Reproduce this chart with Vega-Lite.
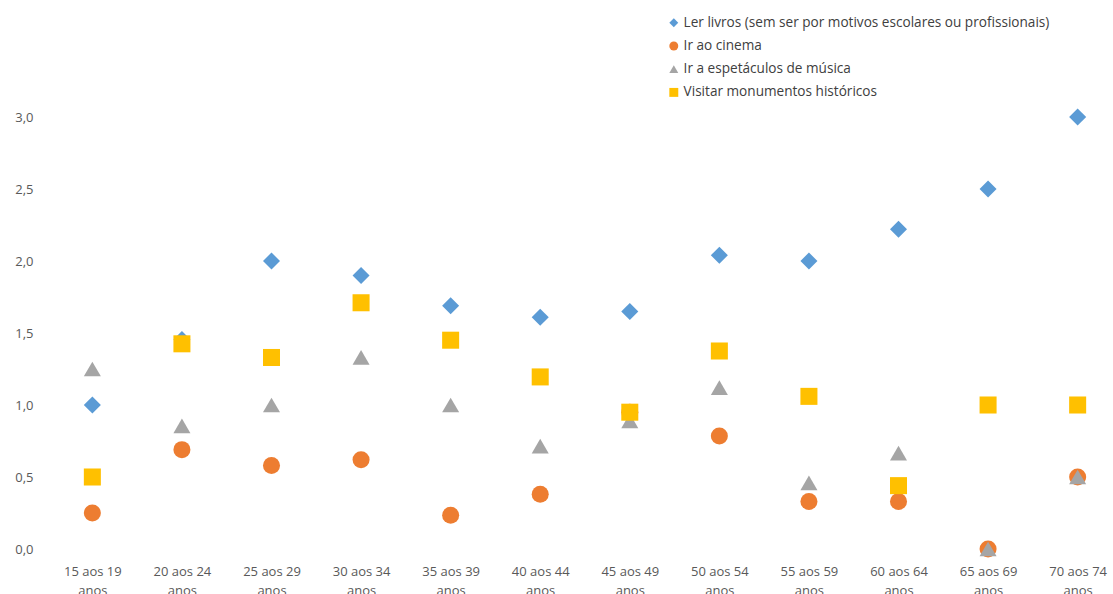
{
  "$schema": "https://vega.github.io/schema/vega-lite/v6.json",
  "width": 1048,
  "height": 432,
  "autosize": {"type": "none"},
  "padding": {"left": 61, "top": 117, "right": 4, "bottom": 45},
  "background": "white",
  "config": {
    "view": {"stroke": null},
    "font": "Open Sans"
  },
  "data": {
    "values": [
      {"idade": "15 aos 19 anos", "serie": "Ler livros (sem ser por motivos escolares ou profissionais)", "valor": 1.0},
      {"idade": "20 aos 24 anos", "serie": "Ler livros (sem ser por motivos escolares ou profissionais)", "valor": 1.455},
      {"idade": "25 aos 29 anos", "serie": "Ler livros (sem ser por motivos escolares ou profissionais)", "valor": 2.0},
      {"idade": "30 aos 34 anos", "serie": "Ler livros (sem ser por motivos escolares ou profissionais)", "valor": 1.9},
      {"idade": "35 aos 39 anos", "serie": "Ler livros (sem ser por motivos escolares ou profissionais)", "valor": 1.69},
      {"idade": "40 aos 44 anos", "serie": "Ler livros (sem ser por motivos escolares ou profissionais)", "valor": 1.61},
      {"idade": "45 aos 49 anos", "serie": "Ler livros (sem ser por motivos escolares ou profissionais)", "valor": 1.65},
      {"idade": "50 aos 54 anos", "serie": "Ler livros (sem ser por motivos escolares ou profissionais)", "valor": 2.04},
      {"idade": "55 aos 59 anos", "serie": "Ler livros (sem ser por motivos escolares ou profissionais)", "valor": 2.0},
      {"idade": "60 aos 64 anos", "serie": "Ler livros (sem ser por motivos escolares ou profissionais)", "valor": 2.22},
      {"idade": "65 aos 69 anos", "serie": "Ler livros (sem ser por motivos escolares ou profissionais)", "valor": 2.5},
      {"idade": "70 aos 74 anos", "serie": "Ler livros (sem ser por motivos escolares ou profissionais)", "valor": 3.0},
      {"idade": "15 aos 19 anos", "serie": "Ir ao cinema", "valor": 0.25},
      {"idade": "20 aos 24 anos", "serie": "Ir ao cinema", "valor": 0.69},
      {"idade": "25 aos 29 anos", "serie": "Ir ao cinema", "valor": 0.58},
      {"idade": "30 aos 34 anos", "serie": "Ir ao cinema", "valor": 0.62},
      {"idade": "35 aos 39 anos", "serie": "Ir ao cinema", "valor": 0.235},
      {"idade": "40 aos 44 anos", "serie": "Ir ao cinema", "valor": 0.38},
      {"idade": "45 aos 49 anos", "serie": "Ir ao cinema", "valor": 0.95},
      {"idade": "50 aos 54 anos", "serie": "Ir ao cinema", "valor": 0.785},
      {"idade": "55 aos 59 anos", "serie": "Ir ao cinema", "valor": 0.33},
      {"idade": "60 aos 64 anos", "serie": "Ir ao cinema", "valor": 0.33},
      {"idade": "65 aos 69 anos", "serie": "Ir ao cinema", "valor": 0.0},
      {"idade": "70 aos 74 anos", "serie": "Ir ao cinema", "valor": 0.5},
      {"idade": "15 aos 19 anos", "serie": "Ir a espetáculos de música", "valor": 1.25},
      {"idade": "20 aos 24 anos", "serie": "Ir a espetáculos de música", "valor": 0.855},
      {"idade": "25 aos 29 anos", "serie": "Ir a espetáculos de música", "valor": 1.0},
      {"idade": "30 aos 34 anos", "serie": "Ir a espetáculos de música", "valor": 1.33},
      {"idade": "35 aos 39 anos", "serie": "Ir a espetáculos de música", "valor": 1.0},
      {"idade": "40 aos 44 anos", "serie": "Ir a espetáculos de música", "valor": 0.715},
      {"idade": "45 aos 49 anos", "serie": "Ir a espetáculos de música", "valor": 0.89},
      {"idade": "50 aos 54 anos", "serie": "Ir a espetáculos de música", "valor": 1.12},
      {"idade": "55 aos 59 anos", "serie": "Ir a espetáculos de música", "valor": 0.46},
      {"idade": "60 aos 64 anos", "serie": "Ir a espetáculos de música", "valor": 0.665},
      {"idade": "65 aos 69 anos", "serie": "Ir a espetáculos de música", "valor": 0.0},
      {"idade": "70 aos 74 anos", "serie": "Ir a espetáculos de música", "valor": 0.5},
      {"idade": "15 aos 19 anos", "serie": "Visitar monumentos históricos", "valor": 0.5},
      {"idade": "20 aos 24 anos", "serie": "Visitar monumentos históricos", "valor": 1.425},
      {"idade": "25 aos 29 anos", "serie": "Visitar monumentos históricos", "valor": 1.33},
      {"idade": "30 aos 34 anos", "serie": "Visitar monumentos históricos", "valor": 1.71},
      {"idade": "35 aos 39 anos", "serie": "Visitar monumentos históricos", "valor": 1.45},
      {"idade": "40 aos 44 anos", "serie": "Visitar monumentos históricos", "valor": 1.195},
      {"idade": "45 aos 49 anos", "serie": "Visitar monumentos históricos", "valor": 0.95},
      {"idade": "50 aos 54 anos", "serie": "Visitar monumentos históricos", "valor": 1.375},
      {"idade": "55 aos 59 anos", "serie": "Visitar monumentos históricos", "valor": 1.06},
      {"idade": "60 aos 64 anos", "serie": "Visitar monumentos históricos", "valor": 0.44},
      {"idade": "65 aos 69 anos", "serie": "Visitar monumentos históricos", "valor": 1.0},
      {"idade": "70 aos 74 anos", "serie": "Visitar monumentos históricos", "valor": 1.0}
    ]
  },
  "mark": {"type": "point", "filled": true, "opacity": 1, "size": 290},
  "encoding": {
    "x": {
      "field": "idade",
      "type": "nominal",
      "sort": null,
      "scale": {"type": "point", "padding": 0.35},
      "axis": {
        "title": null,
        "domain": false,
        "ticks": false,
        "grid": false,
        "labelAngle": 0,
        "labelFontSize": 13,
        "labelColor": "#595959",
        "labelPadding": 22,
        "labelLineHeight": 19,
        "labelBaseline": "middle",
        "labelExpr": "[replace(datum.label, ' anos', ''), 'anos']"
      }
    },
    "y": {
      "field": "valor",
      "type": "quantitative",
      "scale": {"domain": [0, 3], "nice": false, "zero": true},
      "axis": {
        "title": null,
        "domain": false,
        "ticks": false,
        "grid": false,
        "values": [0, 0.5, 1, 1.5, 2, 2.5, 3],
        "labelFontSize": 13,
        "labelColor": "#595959",
        "labelPadding": 28,
        "labelExpr": "replace(format(datum.value, '.1f'), '.', ',')"
      }
    },
    "color": {
      "field": "serie",
      "type": "nominal",
      "sort": null,
      "scale": {
        "domain": ["Ler livros (sem ser por motivos escolares ou profissionais)", "Ir ao cinema", "Ir a espetáculos de música", "Visitar monumentos históricos"],
        "range": ["#5B9BD5", "#ED7D31", "#A5A5A5", "#FFC000"]
      },
      "legend": {
        "title": null,
        "orient": "none",
        "legendX": 606,
        "legendY": -101,
        "labelFontSize": 13.6,
        "labelColor": "#404040",
        "labelLimit": 0,
        "symbolSize": 80,
        "rowPadding": 8.2,
        "labelOffset": 3,
        "symbolStrokeWidth": 0
      }
    },
    "shape": {
      "field": "serie",
      "type": "nominal",
      "sort": null,
      "scale": {
        "domain": ["Ler livros (sem ser por motivos escolares ou profissionais)", "Ir ao cinema", "Ir a espetáculos de música", "Visitar monumentos históricos"],
        "range": ["diamond", "circle", "triangle-up", "square"]
      },
      "legend": {
        "title": null,
        "orient": "none",
        "legendX": 606,
        "legendY": -101,
        "labelFontSize": 13.6,
        "labelColor": "#404040",
        "labelLimit": 0,
        "symbolSize": 80,
        "rowPadding": 8.2,
        "labelOffset": 3,
        "symbolStrokeWidth": 0
      }
    }
  }
}
